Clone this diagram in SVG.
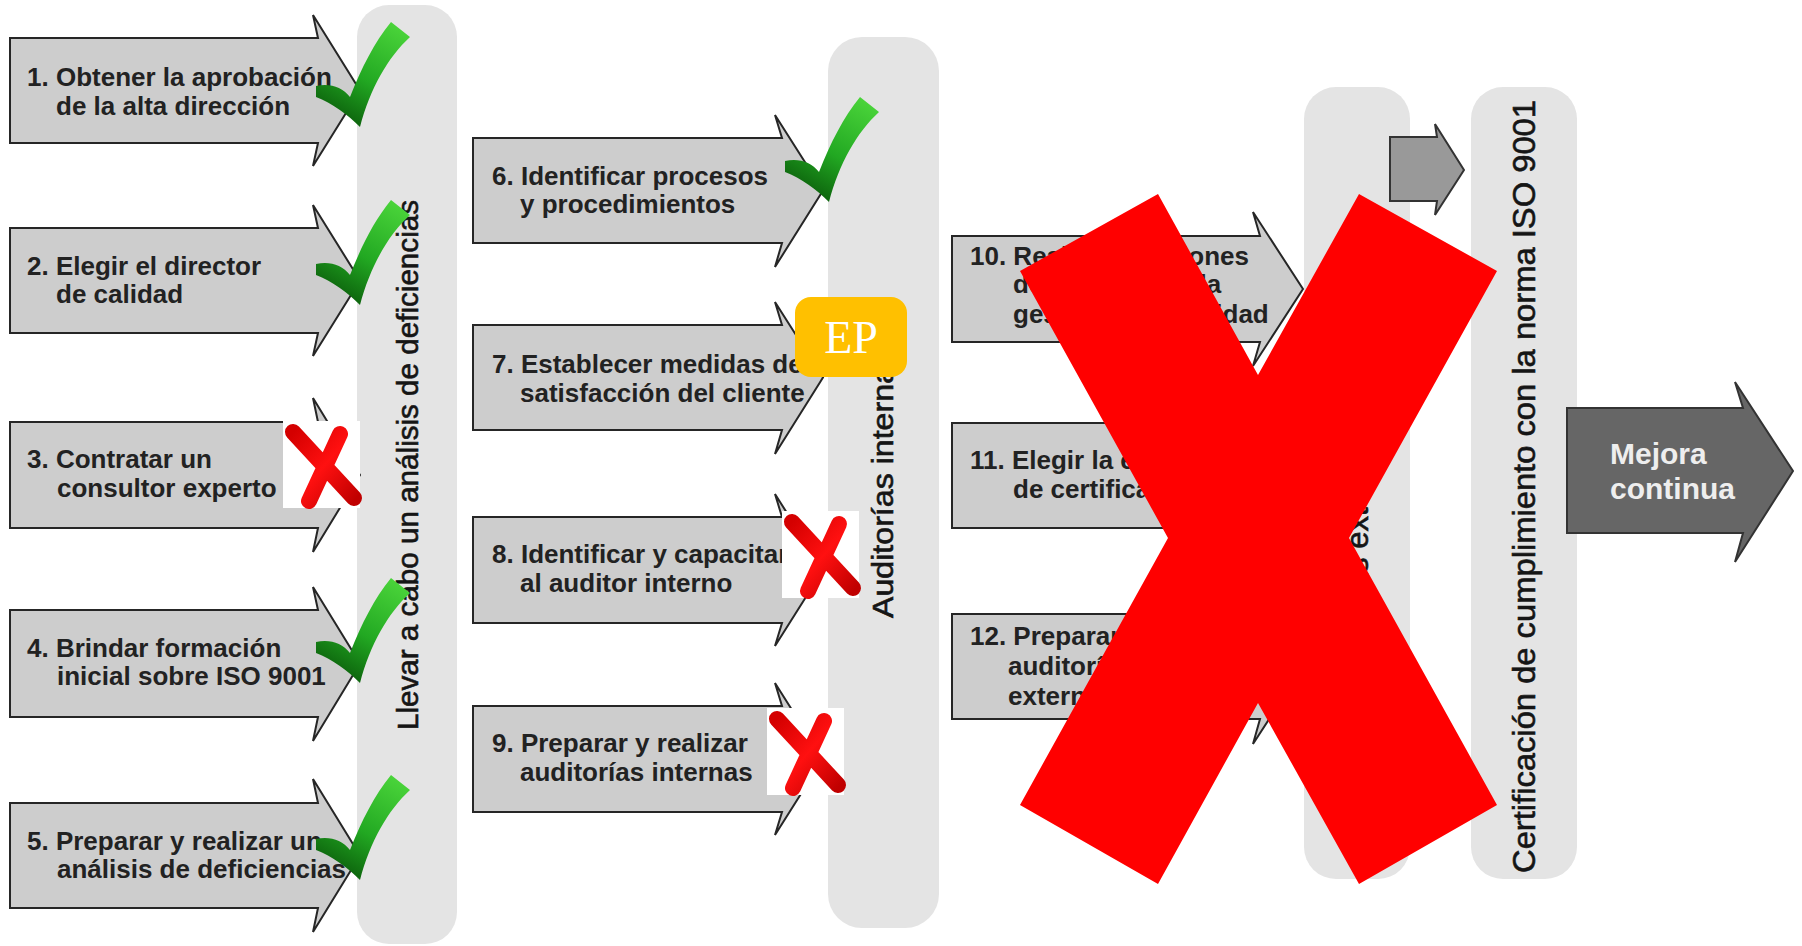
<svg xmlns="http://www.w3.org/2000/svg" width="1802" height="946" viewBox="0 0 1802 946">
<style>
.pillar{fill:#e4e4e4}
.arrow{fill:#cdcdcd;stroke:#262626;stroke-width:2}
.t{font-family:"Liberation Sans",Arial,sans-serif;font-weight:bold;font-size:26px;fill:#222222}
.pt{font-family:"Liberation Sans",Arial,sans-serif;font-size:29px;fill:#151515;stroke:#151515;stroke-width:0.6}
.mt{font-family:"Liberation Sans",Arial,sans-serif;font-weight:bold;font-size:30px;fill:#eeeeee}
.ep{font-family:"Liberation Serif","Times New Roman",serif;font-size:46px;fill:#ffffff}
.xs{fill:none;stroke:url(#gRed);stroke-width:16;stroke-linecap:round}
</style>
<defs>
<linearGradient id="gGreen" x1="0.8" y1="0" x2="0.3" y2="1">
<stop offset="0" stop-color="#4ad43a"/>
<stop offset="0.55" stop-color="#22a822"/>
<stop offset="1" stop-color="#0a5a0a"/>
</linearGradient>
<linearGradient id="gRed" x1="0" y1="0" x2="1" y2="1">
<stop offset="0" stop-color="#d40000"/>
<stop offset="0.5" stop-color="#ff1010"/>
<stop offset="1" stop-color="#c00000"/>
</linearGradient>
<path id="check" d="M0,65 C14,62 26,66 34,76 C46,46 58,22 75,1 L94,16 C72,36 54,68 44,106 C32,94 16,82 0,76 Z" fill="url(#gGreen)"/>
<g id="xmark">
<rect x="0" y="0" width="77" height="87" fill="#ffffff"/>
<path class="xs" d="M10,11 L71,77 M57,13 L26,80"/>
</g>
</defs>
<rect width="1802" height="946" fill="#ffffff"/>

<g id="pillar-deficiencias">
<rect class="pillar" x="357" y="5" width="100" height="939" rx="32"/>
<text class="pt" transform="translate(418,730) rotate(-90)" textLength="530" lengthAdjust="spacingAndGlyphs">Llevar a cabo un análisis de deficiencias</text>
</g>
<g id="pillar-internas">
<rect class="pillar" x="828" y="37" width="111" height="891" rx="34"/>
<text class="pt" transform="translate(893,618) rotate(-90)" textLength="268" lengthAdjust="spacingAndGlyphs">Auditorías internas</text>
</g>
<g id="pillar-externas">
<rect class="pillar" x="1304" y="87" width="106" height="792" rx="32"/>
<text class="pt" style="font-size:31px" transform="translate(1368,697) rotate(-90)">Auditorías externas</text>
</g>
<g id="pillar-certificacion">
<rect class="pillar" x="1471" y="87" width="106" height="792" rx="32"/>
<text class="pt" style="font-size:32px" transform="translate(1535,873) rotate(-90)" textLength="773" lengthAdjust="spacingAndGlyphs">Certificación de cumplimiento con la norma ISO 9001</text>
</g>

<g id="connectors">
<path d="M1390,137 H1437 L1435,124 L1464,170 L1435,215 L1437,201 H1390 Z" fill="#999999" stroke="#333333" stroke-width="2"/>
</g>

<g id="step1">
<path class="arrow" d="M10,38 H318 L313,15 L360,90.5 L313,166 L318,143 H10 Z"/>
<text class="t" x="27" y="86">1. Obtener la aprobación</text>
<text class="t" x="56" y="115">de la alta dirección</text>
</g>
<g id="step2">
<path class="arrow" d="M10,228 H318 L313,205 L360,280.5 L313,356 L318,333 H10 Z"/>
<text class="t" x="27" y="275">2. Elegir el director</text>
<text class="t" x="56" y="303">de calidad</text>
</g>
<g id="step3">
<path class="arrow" d="M10,422 H318 L313,398 L360,475 L313,552 L318,528 H10 Z"/>
<text class="t" x="27" y="468">3. Contratar un</text>
<text class="t" x="57" y="497">consultor experto</text>
</g>
<g id="step4">
<path class="arrow" d="M10,610 H318 L313,587 L360,663.5 L313,741 L318,717 H10 Z"/>
<text class="t" x="27" y="657">4. Brindar formación</text>
<text class="t" x="57" y="685">inicial sobre ISO 9001</text>
</g>
<g id="step5">
<path class="arrow" d="M10,803 H318 L313,779 L360,855.5 L313,932 L318,908 H10 Z"/>
<text class="t" x="27" y="850">5. Preparar y realizar un</text>
<text class="t" x="57" y="878">análisis de deficiencias</text>
</g>

<g id="step6">
<path class="arrow" d="M473,138 H782 L775,115 L823,190.5 L775,267 L782,243 H473 Z"/>
<text class="t" x="492" y="185">6. Identificar procesos</text>
<text class="t" x="520" y="213">y procedimientos</text>
</g>
<g id="step7">
<path class="arrow" d="M473,325 H782 L775,302 L823,377.5 L775,454 L782,430 H473 Z"/>
<text class="t" x="492" y="373">7. Establecer medidas de</text>
<text class="t" x="520" y="402">satisfacción del cliente</text>
</g>
<g id="step8">
<path class="arrow" d="M473,517 H782 L775,494 L823,570 L775,646 L782,623 H473 Z"/>
<text class="t" x="492" y="563">8. Identificar y capacitar</text>
<text class="t" x="520" y="592">al auditor interno</text>
</g>
<g id="step9">
<path class="arrow" d="M473,706 H782 L775,683 L823,759 L775,835 L782,812 H473 Z"/>
<text class="t" x="492" y="752">9. Preparar y realizar</text>
<text class="t" x="520" y="781">auditorías internas</text>
</g>

<g id="step10">
<path class="arrow" d="M952,236 H1260 L1253,212 L1303,289 L1253,366 L1260,342 H952 Z"/>
<text class="t" x="970" y="265">10. Realizar revisiones</text>
<text class="t" x="1013" y="293">del sistema de la</text>
<text class="t" x="1013" y="323">gestión de la calidad</text>
</g>
<g id="step11">
<path class="arrow" d="M952,423 H1260 L1253,399 L1303,475.5 L1253,552 L1260,528 H952 Z"/>
<text class="t" x="970" y="469">11. Elegir la entidad</text>
<text class="t" x="1013" y="498">de certificación</text>
</g>
<g id="step12">
<path class="arrow" d="M952,614 H1260 L1253,590 L1303,666.5 L1253,744 L1260,719 H952 Z"/>
<text class="t" x="970" y="645">12. Preparar y realizar</text>
<text class="t" x="1008" y="675">auditorías</text>
<text class="t" x="1008" y="705">externas</text>
</g>

<g id="mejora">
<path d="M1567,408 H1743 L1735,382 L1793,471 L1735,562 L1743,533 H1567 Z" fill="#666666" stroke="#333333" stroke-width="2"/>
<text class="mt" x="1610" y="464">Mejora</text>
<text class="mt" x="1610" y="499">continua</text>
</g>

<g id="marks">
<use href="#check" transform="translate(316,21)"/>
<use href="#check" transform="translate(316,199)"/>
<use href="#check" transform="translate(316,577)"/>
<use href="#check" transform="translate(316,774)"/>
<use href="#check" transform="translate(785,96)"/>
<use href="#xmark" transform="translate(283,421)"/>
<use href="#xmark" transform="translate(782,511)"/>
<use href="#xmark" transform="translate(767,708)"/>
</g>

<g id="ep-badge">
<rect x="795" y="297" width="112" height="80" rx="16" fill="#ffc000"/>
<text class="ep" x="851" y="353" text-anchor="middle">EP</text>
</g>

<g id="big-x">
<polygon points="1020,271 1158,194 1258,375 1359,194 1497,271 1349,538 1497,805 1359,884 1258,703 1158,884 1020,805 1168,538" fill="#ff0000"/>
</g>
</svg>
